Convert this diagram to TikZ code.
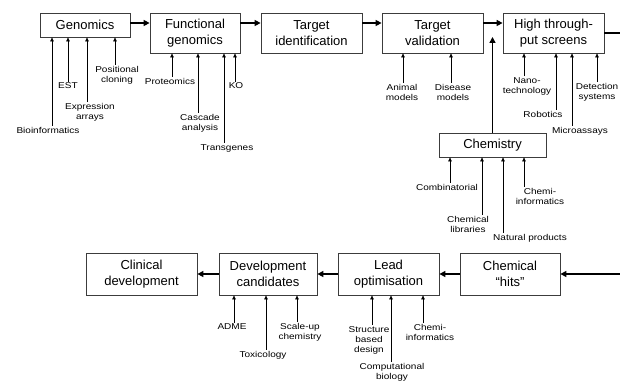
\documentclass[tikz,border=0pt]{standalone}
\usepackage{fontspec}
\setmainfont{Liberation Sans}
\newfontfamily\srcfont[FakeStretch=1.18]{Liberation Sans}
\usepackage{tikz}
\usetikzlibrary{arrows.meta, positioning, calc}
\definecolor{boxline}{RGB}{60, 60, 60}

\begin{document}
\begin{tikzpicture}[x=1pt, y=-1pt,
    stage/.style={rectangle, draw=boxline, line width=0.8pt, inner sep=0pt, align=center,
                  font=\fontsize{13}{16}\selectfont},
    src/.style={inner sep=1pt, align=center, font=\srcfont\fontsize{8.5}{10}\selectfont},
    arr/.style={-{Triangle[length=6pt, width=6pt]}, line width=1.6pt},
    inarr/.style={-{Triangle[length=4pt, width=3.5pt]}, line width=0.6pt}
]
    \useasboundingbox (0,0) rectangle (620,387);
    \coordinate (toprow) at (0,23);

    % top row of stages
    \node[stage, minimum width=90pt, minimum height=24pt] (gen) at (85,25) {Genomics};
    \node[stage, minimum width=90pt, minimum height=40pt] (fg) at (195,33) {Functional\\genomics};
    \node[stage, minimum width=101pt, minimum height=40pt] (tid) at (311.5,33) {Target\\identification};
    \node[stage, minimum width=101pt, minimum height=40pt] (tval) at (432.5,33) {Target\\validation};
    \node[stage, minimum width=101pt, minimum height=40pt] (hts) at (553.5,33) {High through-\\put screens};
    \node[stage, minimum width=107pt, minimum height=24pt] (chem) at (492.5,145) {Chemistry};

    % bottom row of stages
    \node[stage, minimum width=111pt, minimum height=42pt] (clin) at (141.5,274) {Clinical\\development};
    \node[stage, minimum width=98pt, minimum height=42pt] (dev) at (268,274) {Development\\candidates};
    \node[stage, minimum width=101pt, minimum height=42pt] (lead) at (388.5,274) {Lead\\optimisation};
    \node[stage, minimum width=100pt, minimum height=42pt] (hits) at (510,274) {Chemical\\``hits''};

    \draw[arr] (gen.east |- toprow) -- (fg.west |- toprow);
    \draw[arr] (fg.east |- toprow) -- (tid.west |- toprow);
    \draw[arr] (tid.east |- toprow) -- (tval.west |- toprow);
    \draw[arr] (tval.east |- toprow) -- (hts.west |- toprow);
    \draw[arr] (chem.north) -- ([yshift=-4pt]chem.north |- hts.west);
    \draw[arr] (hts.east) -- ++(30,0) |- (hits.east);
    \draw[arr] (hits.west) -- (lead.east);
    \draw[arr] (lead.west) -- (dev.east);
    \draw[arr] (dev.west) -- (clin.east);

    % inputs to genomics
    \node[src] (bioinf) at (48,130) {Bioinformatics};
    \node[src] (est) at (68,86) {EST};
    \node[src] (exparr) at (90,112) {Expression\\arrays};
    \node[src] (poscl) at (117,75) {Positional\\cloning};
    \draw[inarr] ([xshift=4pt]bioinf.north) -- ([xshift=4pt]bioinf.north |- gen.south);
    \draw[inarr] (est.north) -- (est.north |- gen.south);
    \draw[inarr] ([xshift=-3pt]exparr.north) -- ([xshift=-3pt]exparr.north |- gen.south);
    \draw[inarr] ([xshift=-2pt]poscl.north) -- ([xshift=-2pt]poscl.north |- gen.south);

    % inputs to functional genomics
    \node[src] (proteom) at (170,81) {Proteomics};
    \node[src] (cascade) at (200,123) {Cascade\\analysis};
    \node[src] (transg) at (227,148) {Transgenes};
    \node[src] (ko) at (236,86) {KO};
    \draw[inarr] ([xshift=2pt]proteom.north) -- ([xshift=2pt]proteom.north |- fg.south);
    \draw[inarr] ([xshift=-2pt]cascade.north) -- ([xshift=-2pt]cascade.north |- fg.south);
    \draw[inarr] ([xshift=-3pt]transg.north) -- ([xshift=-3pt]transg.north |- fg.south);
    \draw[inarr] ([xshift=-1pt]ko.north) -- ([xshift=-1pt]ko.north |- fg.south);

    % inputs to target validation
    \node[src] (animal) at (402,92) {Animal\\models};
    \node[src] (disease) at (453,92) {Disease\\models};
    \draw[inarr] ([xshift=1pt]animal.north) -- ([xshift=1pt]animal.north |- tval.south);
    \draw[inarr] ([xshift=-2pt]disease.north) -- ([xshift=-2pt]disease.north |- tval.south);

    % inputs to screens
    \node[src] (nano) at (527,86) {Nano-\\technology};
    \node[src] (robot) at (543,114) {Robotics};
    \node[src] (micro) at (580,131) {Microassays};
    \node[src] (detect) at (597,92) {Detection\\systems};
    \draw[inarr] ([xshift=-3pt]nano.north) -- ([xshift=-3pt]nano.north |- hts.south);
    \draw[inarr] ([xshift=13pt]robot.north) -- ([xshift=13pt]robot.north |- hts.south);
    \draw[inarr] ([xshift=-8pt]micro.north) -- ([xshift=-8pt]micro.north |- hts.south);
    \draw[inarr] (detect.north) -- (detect.north |- hts.south);

    % inputs to chemistry
    \node[src] (comb) at (447,187) {Combinatorial};
    \node[src] (chemlib) at (468,224) {Chemical\\libraries};
    \node[src] (natprod) at (530,238) {Natural products};
    \node[src] (cheminf) at (540,196) {Chemi-\\informatics};
    \draw[inarr] ([xshift=3pt]comb.north) -- ([xshift=3pt]comb.north |- chem.south);
    \draw[inarr] ([xshift=14pt]chemlib.north) -- ([xshift=14pt]chemlib.north |- chem.south);
    \draw[inarr] ([xshift=-27pt]natprod.north) -- ([xshift=-27pt]natprod.north |- chem.south);
    \draw[inarr] ([xshift=-16pt]cheminf.north) -- ([xshift=-16pt]cheminf.north |- chem.south);

    % inputs to development candidates
    \node[src] (adme) at (232,327) {ADME};
    \node[src] (tox) at (263,355) {Toxicology};
    \node[src] (scale) at (300,332) {Scale-up\\chemistry};
    \draw[inarr] ([xshift=2pt]adme.north) -- ([xshift=2pt]adme.north |- dev.south);
    \draw[inarr] ([xshift=3pt]tox.north) -- ([xshift=3pt]tox.north |- dev.south);
    \draw[inarr] ([xshift=-3pt]scale.north) -- ([xshift=-3pt]scale.north |- dev.south);

    % inputs to lead optimisation
    \node[src] (sbd) at (369,340) {Structure\\based\\design};
    \node[src] (compbio) at (392,372) {Computational\\biology};
    \node[src] (leadinf) at (430,332) {Chemi-\\informatics};
    \draw[inarr] ([xshift=3pt]sbd.north) -- ([xshift=3pt]sbd.north |- lead.south);
    \draw[inarr] ([xshift=-1pt]compbio.north) -- ([xshift=-1pt]compbio.north |- lead.south);
    \draw[inarr] ([xshift=-7pt]leadinf.north) -- ([xshift=-7pt]leadinf.north |- lead.south);
\end{tikzpicture}
\end{document}
